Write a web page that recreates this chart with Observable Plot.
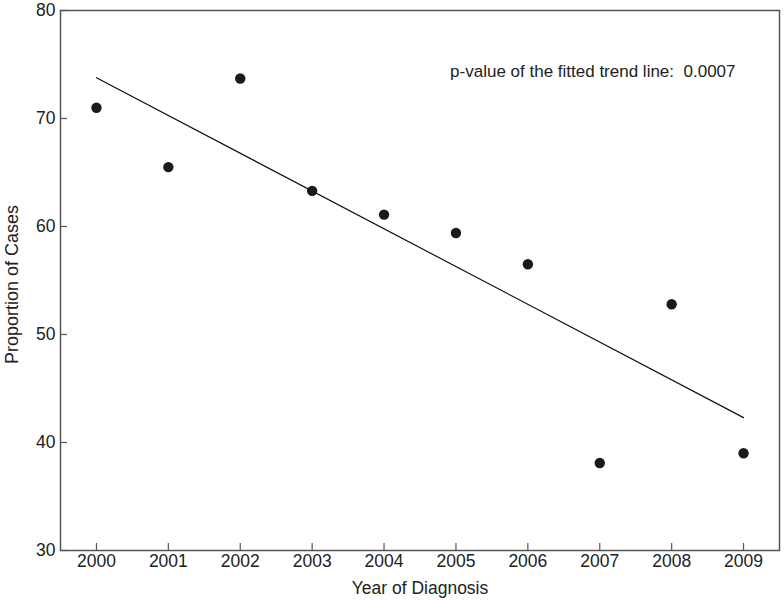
<!DOCTYPE html>
<html>
<head>
<meta charset="utf-8">
<script src="https://cdn.jsdelivr.net/npm/d3@7"></script>
<script src="https://cdn.jsdelivr.net/npm/@observablehq/plot@0.6"></script>
<style>
  html, body { margin: 0; padding: 0; background: #fff; }
  #chart svg { display: block; }
</style>
</head>
<body>
<div id="chart"></div>
<script>
const years = [2000, 2001, 2002, 2003, 2004, 2005, 2006, 2007, 2008, 2009];
const proportions = [71.0, 65.5, 73.7, 63.3, 61.1, 59.4, 56.5, 38.1, 52.8, 39.0];
const yTicks = [30, 40, 50, 60, 70, 80];
const xTicks = years;
const annotation = "p-value of the fitted trend line:  0.0007";
const xTitle = "Year of Diagnosis";
const yTitle = "Proportion of Cases";

const data = years.map((year, i) => ({year, value: proportions[i]}));

const font = "'Liberation Sans', Arial, sans-serif";
const axisColor = "#555";
const textColor = "#222";

const chart = Plot.plot({
  width: 784,
  height: 601,
  marginLeft: 60,
  marginRight: 5,
  marginTop: 10,
  marginBottom: 51,
  style: {fontFamily: font, fontSize: "17.5px", color: textColor, background: "#fff"},
  x: {domain: [1999.5, 2009.5]},
  y: {domain: [30, 80]},
  marks: [
    Plot.frame({stroke: axisColor, strokeWidth: 1.5}),
    // inward tick marks
    Plot.axisY({ticks: yTicks, tickSize: -7, text: null, label: null, stroke: axisColor, strokeWidth: 1.2}),
    Plot.axisX({ticks: xTicks, tickSize: -7, text: null, label: null, stroke: axisColor, strokeWidth: 1.2}),
    // tick labels
    Plot.axisY({ticks: yTicks, tickSize: 0, tickPadding: 5, tickFormat: d => String(d), fontSize: 17.5, fill: textColor, label: null}),
    Plot.axisX({ticks: xTicks, tickSize: 0, tickPadding: 4, tickFormat: d => String(d), fontSize: 17.5, fill: textColor, label: null}),
    // axis titles
    Plot.text([yTitle], {text: d => d, frameAnchor: "left", rotate: -90, dx: -48, dy: 4, lineAnchor: "middle", textAnchor: "middle", fontSize: 18, fill: textColor}),
    Plot.text([xTitle], {text: d => d, frameAnchor: "bottom", dy: 38, lineAnchor: "middle", textAnchor: "middle", fontSize: 17.5, fill: textColor}),
    Plot.linearRegressionY(data, {x: "year", y: "value", ci: 0, stroke: "#111", strokeWidth: 1.2}),
    Plot.dot(data, {x: "year", y: "value", r: 5.2, fill: "#1a1a1a", stroke: "none"}),
    Plot.text([annotation], {text: d => d, frameAnchor: "top-right", dx: -44, dy: 61, lineAnchor: "middle", textAnchor: "end", fontSize: 17, fill: textColor})
  ]
});
document.getElementById("chart").appendChild(chart);
</script>
</body>
</html>
